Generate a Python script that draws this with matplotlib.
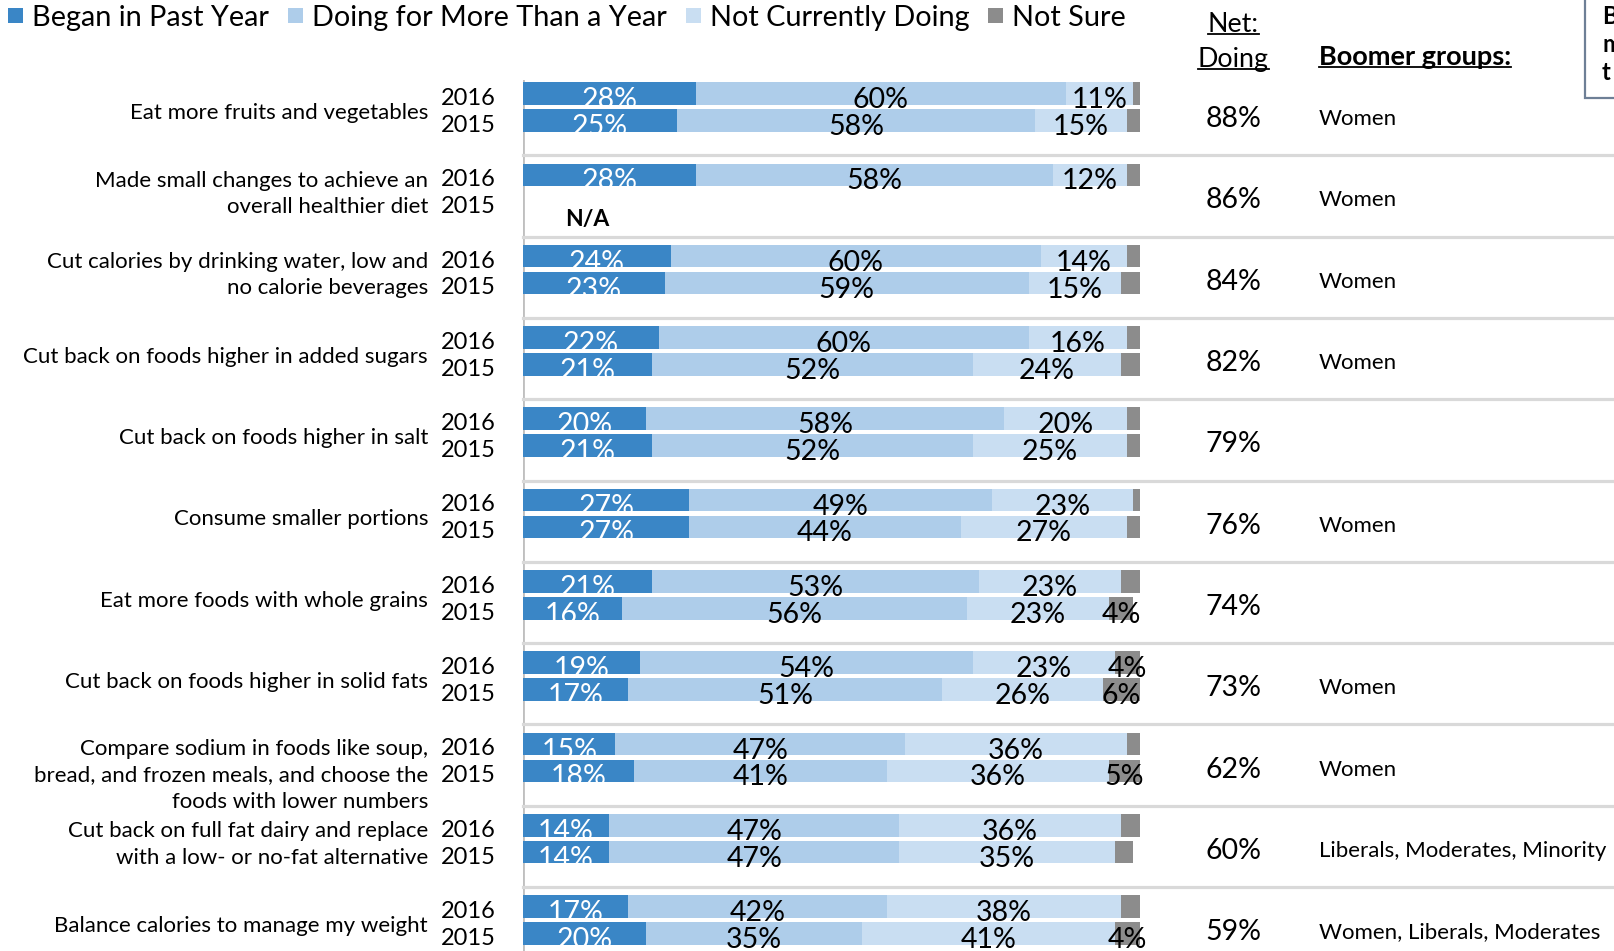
import numpy as np
import matplotlib.pyplot as plt
from matplotlib.patches import Rectangle
from matplotlib.lines import Line2D

plt.rcParams['font.family'] = ['Lato', 'DejaVu Sans']

# --- data ---
actions = [
    "Eat more fruits and vegetables",
    "Made small changes to achieve an\noverall healthier diet",
    "Cut calories by drinking water, low and\nno calorie beverages",
    "Cut back on foods higher in added sugars",
    "Cut back on foods higher in salt",
    "Consume smaller portions",
    "Eat more foods with whole grains",
    "Cut back on foods higher in solid fats",
    "Compare sodium in foods like soup,\nbread, and frozen meals, and choose the\nfoods with lower numbers",
    "Cut back on full fat dairy and replace\nwith a low- or no-fat alternative",
    "Balance calories to manage my weight",
]
years = ["2016", "2015"]

began_2016 = [28, 28, 24, 22, 20, 27, 21, 19, 15, 14, 17]
doing_2016 = [60, 58, 60, 60, 58, 49, 53, 54, 47, 47, 42]
notdoing_2016 = [11, 12, 14, 16, 20, 23, 23, 23, 36, 36, 38]
notsure_2016 = [1, 2, 2, 2, 2, 1, 3, 4, 2, 3, 3]

# 2015 has no figure for "small changes" (N/A)
began_2015 = [25, None, 23, 21, 21, 27, 16, 17, 18, 14, 20]
doing_2015 = [58, None, 59, 52, 52, 44, 56, 51, 41, 47, 35]
notdoing_2015 = [15, None, 15, 24, 25, 27, 23, 26, 36, 35, 41]
notsure_2015 = [2, None, 3, 3, 2, 2, 4, 6, 5, 3, 4]

net_doing = [88, 86, 84, 82, 79, 76, 74, 73, 62, 60, 59]
boomer_groups = ["Women", "Women", "Women", "Women", "", "Women", "",
                 "Women", "Women", "Liberals, Moderates, Minority",
                 "Women, Liberals, Moderates"]

legend_labels = ["Began in Past Year", "Doing for More Than a Year",
                 "Not Currently Doing", "Not Sure"]
colors = ["#3A86C6", "#AECDEA", "#C9DEF2", "#8C8C8C"]
label_colors = ["white", "black", "black", "black"]

W, H = 1614, 951
fig = plt.figure(figsize=(W / 100, H / 100), dpi=100)


def fx(px):
    return px / W


def fy(py):
    return 1 - py / H


ax = fig.add_axes([fx(523), 0, fx(1139.5) - fx(523), fy(80)])
ax.set_xlim(0, 100)
ax.set_ylim(10.381, -0.332)
ax.axis('off')

n = len(actions)
rows = np.arange(n)
bar_h = 0.278
off = 0.165
lbl_size = 20.5

series = {
    "2016": [began_2016, doing_2016, notdoing_2016, notsure_2016],
    "2015": [began_2015, doing_2015, notdoing_2015, notsure_2015],
}

for yr, shift in zip(years, [-off, off]):
    segs = series[yr]
    mask = np.array([v is not None for v in segs[0]])
    ypos = rows[mask] + shift
    left = np.zeros(mask.sum())
    for k, seg in enumerate(segs):
        vals = np.array([v for v in seg if v is not None], dtype=float)
        ax.barh(ypos, vals, left=left, height=bar_h, color=colors[k],
                edgecolor='none', zorder=2)
        for y, l, v in zip(ypos, left, vals):
            if k == 3 and v < 4:
                continue
            ax.text(l + v / 2, y + 0.08, f"{v:.0f}%", ha='center', va='center',
                    fontsize=lbl_size, color=label_colors[k], zorder=3)
        left += vals

    # rows without a value
    for i in rows[~mask]:
        ax.text(10.5, i + off + 0.22, "N/A", ha='center', va='center',
                fontsize=16.5, fontweight='bold', zorder=3)

# vertical axis line and row separators
ax.axvline(0, color='#BFBFBF', lw=2, zorder=1)
ytr = ax.get_yaxis_transform()
for i in range(n - 1):
    ax.plot([0, 1.8], [i + 0.595, i + 0.595], transform=ytr, color='#D9D9D9',
            lw=2.3, clip_on=False, zorder=1)

# category and year labels, net column and boomer groups
for i, a in enumerate(actions):
    y = i + (0.22 if a.count("\n") == 2 else 0.07)
    ax.text(-0.154, y, a, transform=ytr, ha='right', va='center',
            multialignment='right', fontsize=16, linespacing=1.4, clip_on=False)
    ax.text(-0.044, i - off + 0.06, years[0], transform=ytr, ha='right',
            va='center', fontsize=17, clip_on=False)
    ax.text(-0.044, i + off + 0.06, years[1], transform=ytr, ha='right',
            va='center', fontsize=17, clip_on=False)
    ax.text(1.152, i + 0.15, f"{net_doing[i]}%", transform=ytr, ha='center',
            va='center', fontsize=lbl_size, clip_on=False)
    if boomer_groups[i]:
        ax.text(1.291, i + 0.15, boomer_groups[i], transform=ytr, ha='left',
                va='center', fontsize=16, clip_on=False)

# column headers
hdrs = [
    fig.text(fx(1233), fy(24), "Net:", ha='center', va='center', fontsize=19.3),
    fig.text(fx(1233), fy(59), "Doing", ha='center', va='center', fontsize=19.3),
    fig.text(fx(1319), fy(57), "Boomer groups:", ha='left', va='center',
             fontsize=19.5, fontweight='bold'),
]

# box in the top right corner
fig.patches.append(Rectangle((fx(1585), fy(98)), 0.1, 0.2, transform=fig.transFigure,
                             facecolor='white', edgecolor='#6E7F96', lw=1.6,
                             clip_on=False))
for txt, py in zip(["B", "m", "t"], [16, 44, 72]):
    fig.text(fx(1602), fy(py), txt, ha='left', va='center', fontsize=17,
             fontweight='bold')

# legend laid out left to right
fig.canvas.draw()
renderer = fig.canvas.get_renderer()
x = 8
sq = 15
for lab, c in zip(legend_labels, colors):
    fig.patches.append(Rectangle((fx(x), fy(8 + sq)), sq / W, sq / H,
                                 transform=fig.transFigure, facecolor=c,
                                 edgecolor='none'))
    t = fig.text(fx(x + sq + 9), fy(18), lab, ha='left', va='center',
                 fontsize=20.8)
    bb = t.get_window_extent(renderer)
    x = bb.x1 + 19

# underline the headers
for t in hdrs:
    bb = t.get_window_extent(renderer)
    em = t.get_fontsize() * fig.dpi / 72
    yl = bb.y0 + 0.08 * em
    fig.lines.append(Line2D([bb.x0 / W, bb.x1 / W], [yl / H, yl / H],
                            transform=fig.transFigure, color='black', lw=1.3))

fig.savefig("out.png", dpi=100)
